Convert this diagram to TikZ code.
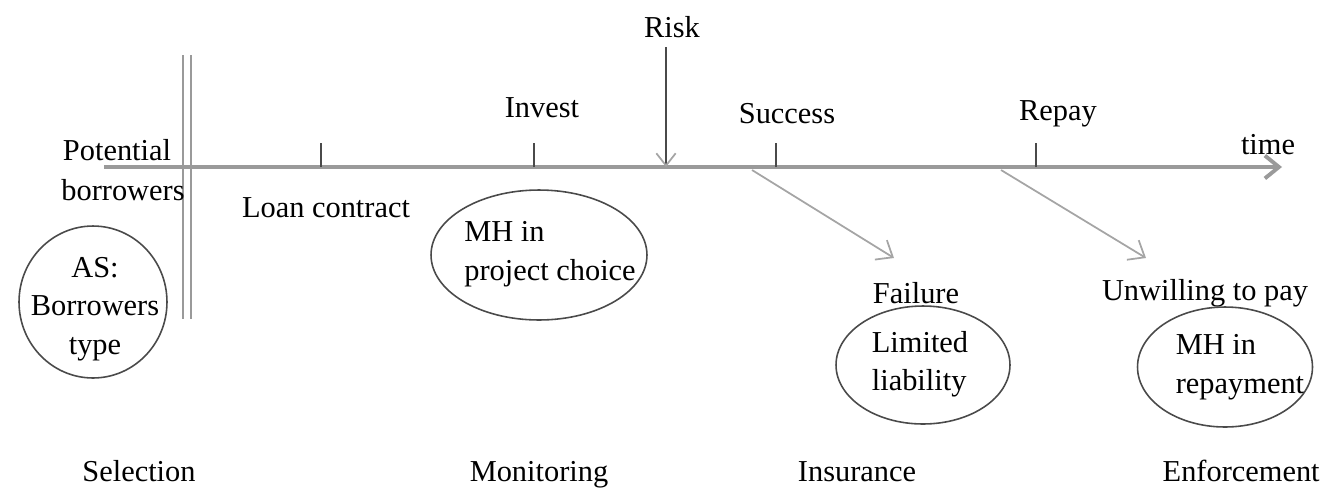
\documentclass[tikz,border=0pt]{standalone}
\usepackage{fontspec}
\setmainfont{Liberation Serif}
\usetikzlibrary{arrows.meta,shapes.geometric}

\begin{document}
\begin{tikzpicture}[x=0.02cm, y=-0.02cm,
    font=\fontsize{17.3}{21.9}\selectfont,
    >={Straight Barb[length=8pt,width=13pt]},
    txt/.style={inner sep=0pt},
    oval/.style={ellipse, draw=lineColour, line width=0.9pt, inner sep=0pt}]
    % Define colours
    \definecolor{axisColour}{HTML}{9A9A9A}
    \definecolor{lineColour}{HTML}{4A4A4A}
    \definecolor{branchColour}{HTML}{A5A5A5}

    \useasboundingbox (0,0) rectangle (1322,491);

    % Draw time axis
    \coordinate (axisStart) at (104,167);
    \coordinate (axisEnd) at (1282,167);
    \draw[line width=2.2pt, axisColour, ->] (axisStart) -- (axisEnd);
    \node[txt] (time) at (1268,145) {time};

    % Draw double bar
    \draw[line width=1.3pt, axisColour] (183,55) -- (183,319);
    \draw[line width=1.3pt, axisColour] (191,55) -- (191,319);
    \node[txt] (potential) at (117,150) {Potential};
    \node[txt] (borrowers) at (123,190) {borrowers};

    % Draw ticks
    \foreach \x/\name in {321/loan,534/invest,776/success,1036/repay}
        \draw[lineColour, line width=1pt] (\x,143) -- (\x,167) coordinate (\name);

    % Label ticks
    \node[txt] (loanLabel) at (326,208) {Loan contract};
    \node[txt] (investLabel) at (542,108) {Invest};
    \node[txt] (successLabel) at (787,114) {Success};
    \node[txt] (repayLabel) at (1058,114) {Repay};

    % Draw risk arrow
    \coordinate (riskTop) at (666,47);
    \coordinate (riskHit) at (666,167);
    \draw[-{Straight Barb[length=7pt,width=11pt,color=branchColour]}, lineColour, line width=1pt] (riskTop) -- (riskHit);
    \node[txt] (risk) at (672,27) {Risk};

    % Draw branches off the axis
    \coordinate (failFrom) at (752,170);
    \coordinate (failTo) at (894,258);
    \coordinate (refuseFrom) at (1001,170);
    \coordinate (refuseTo) at (1146,258);
    \draw[->, branchColour, line width=1pt] (failFrom) -- (failTo);
    \draw[->, branchColour, line width=1pt] (refuseFrom) -- (refuseTo);
    \node[txt] (failure) at (916,293) {Failure};
    \node[txt] (unwilling) at (1205,293) {Unwilling to pay};

    % Draw ellipses
    \node[oval, minimum width=2.96cm, minimum height=3.04cm] (asOval) at (93,302) {};
    \node[txt, align=center] (asText) at (95,309) {AS:\\Borrowers\\type};
    \node[oval, minimum width=4.32cm, minimum height=2.6cm] (mhProject) at (539,255) {};
    \node[txt, align=left] (mhProjectText) at (550,254) {MH in\\project choice};
    \node[oval, minimum width=3.48cm, minimum height=2.36cm] (llOval) at (923,365) {};
    \node[txt, align=left] (llText) at (920,364) {Limited\\liability};
    \node[oval, minimum width=3.5cm, minimum height=2.4cm] (mhRepay) at (1225,367) {};
    \node[txt, align=left] (mhRepayText) at (1240,367) {MH in\\repayment};

    % Label the four problems
    \node[txt, anchor=base] (selection) at (139,481) {Selection};
    \node[txt, anchor=base] (monitoring) at (539,481) {Monitoring};
    \node[txt, anchor=base] (insurance) at (857,481) {Insurance};
    \node[txt, anchor=base east] (enforcement) at (1320,481) {Enforcement};

\end{tikzpicture}
\end{document}
